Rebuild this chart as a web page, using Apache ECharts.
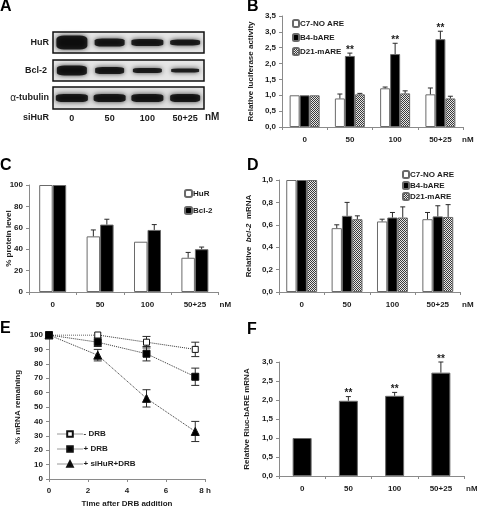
<!DOCTYPE html>
<html><head><meta charset="utf-8">
<style>html,body{margin:0;padding:0;background:#fff}#c{width:477px;height:508px}</style>
<script src="https://cdn.jsdelivr.net/npm/echarts@6/dist/echarts.min.js"></script>
</head><body><div id="c"></div>
<script>
// ---- data ----
const doseLabels = ['0','50','100','50+25'];
// Panel A: band width / thickness per lane
const blotRows = ['HuR','Bcl-2','α-tubulin'];
const hurBandW = [31,30,32,30], hurBandH = [14,8,7,6];
const bclBandW = [30,29,29,28], bclBandH = [10,7,5,4];
const tubBandW = [32,32,32,30], tubBandH = [8,8,8,8];
// Panel B
const bC7 = [1,0.9,1.22,1.03], bC7Top = [1,1.04,1.26,1.23];
const bB4 = [1,2.24,2.3,2.77], bB4Top = [1,2.33,2.64,3.02];
const bD21 = [1,1.03,1.06,0.9], bD21Top = [1,1.06,1.14,0.97];
const bStars = ['','**','**','**'];
// Panel C
const cHuR = [100,52,47,32], cHuRTop = [100,58,47,37];
const cBcl = [100,63,58,40], cBclTop = [100,68,63,42];
// Panel D
const dC7 = [1,0.57,0.63,0.65], dC7Top = [1,0.6,0.65,0.71];
const dB4 = [1,0.68,0.665,0.675], dB4Top = [1,0.8,0.71,0.77];
const dD21 = [1,0.65,0.665,0.67], dD21Top = [1,0.68,0.76,0.78];
// Panel E
const eTimes = [0,2.5,5,7.5];
const eNoDrb = [100,100,95,90], eNoDrbErr = [0,0,4,5];
const eDrb = [100,95,87,71], eDrbErr = [0,3,5,6];
const eSi = [100,86,56,33], eSiErr = [0,4,6,7];
// Panel F
const fVals = [1,1.98,2.11,2.72], fTop = [1,2.09,2.2,3.0];
const fStars = ['','**','**','**'];

// ---- style helpers ----
const FONT = 'Liberation Sans';
const INK = '#1c1c1c';
const AX = '#8a8a8a';
const BORDER = '#6a6a6a';
const pc = document.createElement('canvas'); pc.width = pc.height = 4;
const g = pc.getContext('2d');
g.fillStyle = '#e8e8e8'; g.fillRect(0,0,4,4);
g.fillStyle = '#3a3a3a';
[[0,0],[2,0],[1,1],[3,1],[0,2],[2,2],[1,3],[3,3]].forEach(p=>g.fillRect(p[0],p[1],1,1));
const hatch = {image: pc, repeat: 'repeat'};
const fmtComma = d => v => v.toFixed(d).replace('.',',');

function rect(l,t,r,b,extra){return Object.assign({left:l,top:t,width:r-l,height:b-t,outerBoundsMode:'none',containLabel:false},extra||{});}
const grids = [
  rect(53,32,204,53,{show:true,backgroundColor:'#e6e6e6',borderColor:'#111',borderWidth:1.5}),
  rect(53,60,204,81,{show:true,backgroundColor:'#e6e6e6',borderColor:'#111',borderWidth:1.5}),
  rect(53,87,204,109,{show:true,backgroundColor:'#e0e0e0',borderColor:'#111',borderWidth:1.5}),
  rect(282,16,463,127),
  rect(29,185,218.6,292),
  rect(279,180,460.5,292),
  rect(49,335,205,479),
  rect(279,362,464,476)
];
const labelStyle = {fontFamily:FONT,fontWeight:'bold',fontSize:8,color:INK};
const blotStyle = Object.assign({},labelStyle,{fontSize:9});
function blotX(i,show){return {type:'category',gridIndex:i,data:doseLabels,position:'bottom',axisLine:{show:false},axisTick:{show:false},splitLine:{show:false},
  axisLabel:Object.assign({show:show,margin:5,interval:0},blotStyle)};}
function blotY(i,row,margin){return {type:'category',gridIndex:i,data:[row],axisLine:{show:false},axisTick:{show:false},splitLine:{show:false},
  axisLabel:Object.assign({margin:margin,
    formatter:v=>v==='α-tubulin'?'{g|α}-tubulin':v,
    rich:{g:{fontFamily:FONT,fontWeight:'normal',fontSize:10,color:INK}}},blotStyle)};}
function catX(i,gap){return {type:'category',gridIndex:i,data:doseLabels,
  axisLine:{show:true,onZero:false,lineStyle:{color:AX,width:1}},axisTick:{show:true,length:3,lineStyle:{color:AX}},
  axisLabel:Object.assign({interval:0,margin:9},labelStyle),
  name:'nM',nameLocation:'end',nameGap:gap,nameMoveOverlap:false,nameTextStyle:Object.assign({},labelStyle,{verticalAlign:'top',padding:[9,0,0,0]})};}
function valY(i,max,step,name,nameGap,fmt){return {type:'value',gridIndex:i,min:0,max:max,interval:step,
  splitLine:{show:false},axisLine:{show:true,lineStyle:{color:AX}},axisTick:{show:true,length:3,lineStyle:{color:AX}},
  axisLabel:Object.assign({margin:6,formatter:fmt},labelStyle),
  name:name,nameLocation:'middle',nameGap:nameGap,nameRotate:90,nameMoveOverlap:false,
  nameTextStyle:Object.assign({},labelStyle,{rich:{a:labelStyle,i:Object.assign({},labelStyle,{fontStyle:'italic'})}})};}

function bar(name,gi,vals,color,w){return {type:'bar',name,xAxisIndex:gi,yAxisIndex:gi,data:vals,barWidth:w,barGap:'0%',
  itemStyle:{color,borderColor:BORDER,borderWidth:1},emphasis:{disabled:true},z:2};}
function errUp(gi,vals,tops,off){return {type:'custom',name:'err'+gi+off,xAxisIndex:gi,yAxisIndex:gi,
  data:vals.map((v,i)=>[i,v,tops[i]]),z:3,silent:true,encode:{x:0,y:[1,2]},
  renderItem(p,api){
    const a=api.coord([api.value(0),api.value(1)]),b=api.coord([api.value(0),api.value(2)]);
    if(a[1]-b[1]<0.5) return null;
    const x=a[0]+off;
    return {type:'group',children:[
      {type:'line',shape:{x1:x,y1:a[1],x2:x,y2:b[1]},style:{stroke:'#2a2a2a',lineWidth:1}},
      {type:'line',shape:{x1:x-2.5,y1:b[1],x2:x+2.5,y2:b[1]},style:{stroke:'#2a2a2a',lineWidth:1}}]};
  }};}
function starSeries(gi,tops,stars,off){return {type:'custom',name:'stars'+gi,xAxisIndex:gi,yAxisIndex:gi,
  data:tops.map((v,i)=>[i,v,i]),z:4,silent:true,encode:{x:0,y:1},
  renderItem(p,api){
    const i=api.value(2);
    if(!stars[i]) return null;
    const c=api.coord([api.value(0),api.value(1)]);
    return {type:'text',x:c[0]+off,y:c[1]-3,style:{text:stars[i],textAlign:'center',textVerticalAlign:'middle',
      fontFamily:FONT,fontWeight:'bold',fontSize:10,fill:INK}};
  }};}
function eLine(name,vals,sym,size,fill,z){return {type:'line',name,xAxisIndex:6,yAxisIndex:6,data:eTimes.map((t,i)=>[t,vals[i]]),
  symbol:sym,symbolSize:size,showSymbol:true,z,
  lineStyle:{color:'#333',width:1,type:'dotted'},itemStyle:{color:fill,borderColor:'#111',borderWidth:1},emphasis:{disabled:true}};}
function eErr(gi,vals,errs){return {type:'custom',name:'eerr'+vals[2],xAxisIndex:6,yAxisIndex:6,
  data:eTimes.map((t,i)=>[t,vals[i]-errs[i],vals[i]+errs[i]]),z:1,silent:true,encode:{x:0,y:[1,2]},
  renderItem(p,api){
    const a=api.coord([api.value(0),api.value(1)]),b=api.coord([api.value(0),api.value(2)]);
    if(a[1]-b[1]<0.5) return null;
    const x=a[0];
    const cap=(y)=>({type:'line',shape:{x1:x-4,y1:y,x2:x+4,y2:y},style:{stroke:'#2a2a2a',lineWidth:1}});
    return {type:'group',children:[{type:'line',shape:{x1:x,y1:a[1],x2:x,y2:b[1]},style:{stroke:'#2a2a2a',lineWidth:1}},cap(a[1]),cap(b[1])]};
  }};}
function bands(gi,w,h){return {type:'scatter',xAxisIndex:gi,yAxisIndex:gi,data:w.map((_,i)=>({value:[i,0],symbolSize:[w[i],h[i]]})),
  symbol:'roundRect',silent:true,clip:true,itemStyle:{color:'#000',shadowBlur:5,shadowColor:'rgba(0,0,0,0.9)'},emphasis:{disabled:true}};}
function legend(left,top,names,gap,w,h){return {orient:'vertical',left,top,padding:0,itemGap:gap,itemWidth:w,itemHeight:h,data:names,selectedMode:false,
  textStyle:Object.assign({},labelStyle,{padding:[0,0,0,-4]})};}
function letter(t,l,tp){return {text:t,left:l,top:tp,padding:0,textStyle:{fontFamily:FONT,fontWeight:'bold',fontSize:16,color:'#000'}};}

const wB=10,wC=13.5,wD=10.3,wF=19;
const option = {
  animation:false,backgroundColor:'#fff',
  title:[letter('A',0,-1),letter('B',247,-1),letter('C',0,158),letter('D',247,158),letter('E',0,321),letter('F',247,322)],
  grid:grids,
  xAxis:[blotX(0,false),blotX(1,false),blotX(2,true),catX(3,-1),catX(4,1),catX(5,1.5),
    {type:'value',gridIndex:6,min:0,max:8,interval:2,splitLine:{show:false},
     axisLine:{show:true,onZero:false,lineStyle:{color:AX}},axisTick:{show:true,length:3,lineStyle:{color:AX}},
     axisLabel:Object.assign({margin:8,formatter:v=>v===8?'8 h':String(v)},labelStyle),
     name:'Time after DRB addition',nameLocation:'middle',nameGap:21,nameMoveOverlap:false,nameTextStyle:labelStyle},
    catX(7,2)],
  yAxis:[blotY(0,blotRows[0],4),blotY(1,blotRows[1],6),blotY(2,blotRows[2],4),
    valY(3,3.5,0.5,'Relative luciferase activity',27,fmtComma(1)),
    valY(4,100,20,'% protein level',16,v=>String(v)),
    valY(5,1,0.2,'{a|Relative  }{i|bcl-2}{a|  mRNA}',26,fmtComma(1)),
    valY(6,100,10,'% mRNA remaining',27,v=>String(v)),
    valY(7,3,0.5,'Relative Rluc-bARE mRNA',28,fmtComma(1))],
  legend:[
    legend(292,19,['C7-NO ARE','B4-bARE','D21-mARE'],5,6,7),
    legend(184,189,['HuR','Bcl-2'],8,7,7),
    legend(402,170,['C7-NO ARE ','B4-bARE ','D21-mARE '],2,6,7),
    Object.assign(legend(57,430,['- DRB','+ DRB','+ siHuR+DRB'],7,25,7),{lineStyle:{width:1,type:'dotted'}})
  ],
  graphic:[
    {type:'text',left:23,top:113,style:{text:'siHuR',font:'bold 9px '+FONT,fill:INK}},
    {type:'text',left:205,top:112,style:{text:'nM',font:'bold 10px '+FONT,fill:INK}}
  ],
  series:[
    bands(0,hurBandW,hurBandH),bands(1,bclBandW,bclBandH),bands(2,tubBandW,tubBandH),
    bar('C7-NO ARE',3,bC7,'#fff',wB),bar('B4-bARE',3,bB4,'#000',wB),bar('D21-mARE',3,bD21,hatch,wB),
    errUp(3,bC7,bC7Top,-wB),errUp(3,bB4,bB4Top,0),errUp(3,bD21,bD21Top,wB),starSeries(3,bB4Top,bStars,0),
    bar('HuR',4,cHuR,'#fff',wC),bar('Bcl-2',4,cBcl,'#000',wC),
    errUp(4,cHuR,cHuRTop,-wC/2),errUp(4,cBcl,cBclTop,wC/2),
    bar('C7-NO ARE ',5,dC7,'#fff',wD),bar('B4-bARE ',5,dB4,'#000',wD),bar('D21-mARE ',5,dD21,hatch,wD),
    errUp(5,dC7,dC7Top,-wD),errUp(5,dB4,dB4Top,0),errUp(5,dD21,dD21Top,wD),
    eErr(6,eNoDrb,eNoDrbErr),eErr(6,eDrb,eDrbErr),eErr(6,eSi,eSiErr),
    eLine('+ siHuR+DRB',eSi,'triangle',8,'#000',3),
    eLine('- DRB',eNoDrb,'rect',6,'#fff',4),
    eLine('+ DRB',eDrb,'rect',7,'#000',5),
    bar('Rluc',7,fVals,'#000',wF),errUp(7,fVals,fTop,0),starSeries(7,fTop,fStars,0)
  ]
};
echarts.init(document.getElementById('c'),null,{renderer:'canvas'}).setOption(option);
</script></body></html>
